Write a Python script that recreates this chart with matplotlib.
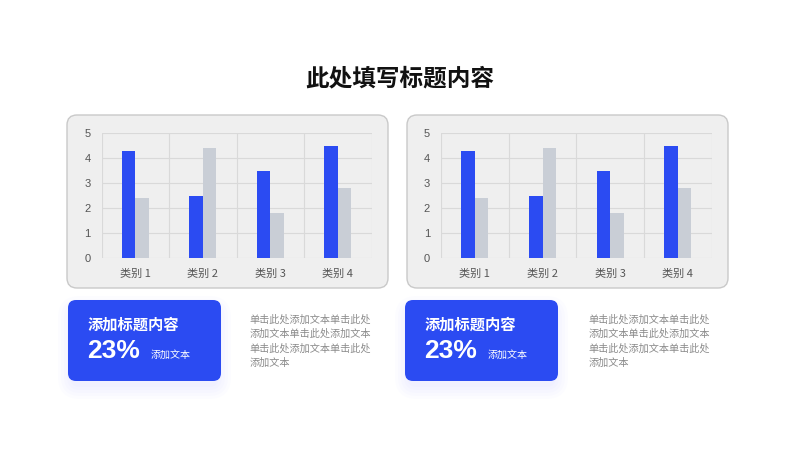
import matplotlib
matplotlib.use("Agg")
from matplotlib import pyplot as plt
from matplotlib.patches import FancyBboxPatch
import numpy as np

plt.rcParams['font.family'] = ['Noto Sans CJK SC', 'DejaVu Sans']

# data
categories = ["类别 1", "类别 2", "类别 3", "类别 4"]
series_a = [4.3, 2.5, 3.5, 4.5]
series_b = [2.4, 4.4, 1.8, 2.8]
y_ticks = [0, 1, 2, 3, 4, 5]

title = "此处填写标题内容"
card_title = "添加标题内容"
card_value = "23%"
card_note = "添加文本"
para_lines = ["单击此处添加文本单击此处", "添加文本单击此处添加文本",
              "单击此处添加文本单击此处", "添加文本"]

BLUE = "#2b4bf2"
GRAY = "#c9ced6"
W, H = 800, 450

fig = plt.figure(figsize=(8, 4.5), dpi=100)
fig.patch.set_facecolor("white")

# overlay axes in pixel coords
bg = fig.add_axes([0, 0, 1, 1], zorder=0)
bg.set_xlim(0, W)
bg.set_ylim(H, 0)
bg.axis("off")

bg.text(400, 78, title, ha="center", va="center", fontsize=17, fontweight="bold", color="#111111")


def panel(x0, x1, plot_l, plot_r, card_x, para_x):
    # chart frame
    box = FancyBboxPatch((x0, 115), x1 - x0, 173, boxstyle="round,pad=0,rounding_size=10",
                         facecolor="#efefef", edgecolor="#c9c9c9", linewidth=1.0)
    bg.add_patch(box)

    # soft glow under card
    for i in range(5):
        g = 2 + i * 3
        glow = FancyBboxPatch((card_x - g + 4, 300 - g + 10), 145 + 2 * g, 75 + 2 * g,
                              boxstyle="round,pad=0,rounding_size=%d" % (8 + g),
                              facecolor="#8c9cff", edgecolor="none", alpha=0.025)
        bg.add_patch(glow)
    card = FancyBboxPatch((card_x, 300), 153, 81, boxstyle="round,pad=0,rounding_size=8",
                          facecolor=BLUE, edgecolor="none")
    bg.add_patch(card)
    bg.text(card_x + 20, 325, card_title, ha="left", va="center", fontsize=11,
            fontweight="bold", color="white")
    bg.text(card_x + 19, 351, card_value, ha="left", va="center", fontsize=19,
            fontweight="bold", color="white", family=["Liberation Sans", "DejaVu Sans"])
    bg.text(card_x + 83, 355, card_note, ha="left", va="center", fontsize=7.2, color="white")
    for k, line in enumerate(para_lines):
        bg.text(para_x, 320 + k * 14.2, line, ha="left", va="center", fontsize=7.3, color="#8a8a8a")

    # bar chart
    ax = fig.add_axes([plot_l / W, 1 - 258 / H, (plot_r - plot_l) / W, 125 / H], zorder=2)
    ax.patch.set_alpha(0)
    x = np.arange(len(categories))
    ax.bar(x - 0.1, series_a, width=0.2, color=BLUE, zorder=3)
    ax.bar(x + 0.1, series_b, width=0.2, color=GRAY, zorder=3)
    ax.set_xlim(-0.5, 3.5)
    ax.set_ylim(0, 5)
    ax.set_yticks(y_ticks)
    ax.set_xticks(x)
    ax.set_xticklabels(categories)
    ax.set_xticks(np.arange(-0.5, 4, 1), minor=True)
    ax.grid(axis="y", color="#d9d9d9", linewidth=0.8, zorder=0)
    ax.grid(axis="x", which="minor", color="#d9d9d9", linewidth=0.8, zorder=0)
    ax.tick_params(which="both", length=0)
    ax.tick_params(axis="y", labelsize=8, labelcolor="#555555", pad=8)
    ax.tick_params(axis="x", labelsize=8, labelcolor="#555555", pad=8)
    for lab in ax.get_yticklabels():
        lab.set_family(["Liberation Sans", "DejaVu Sans"])
    for s in ax.spines.values():
        s.set_visible(False)


panel(67, 388, 101.7, 371.7, 68, 249.5)
panel(407, 728, 441, 711.7, 405, 588.5)

plt.savefig("out.png", dpi=100, facecolor="white")
